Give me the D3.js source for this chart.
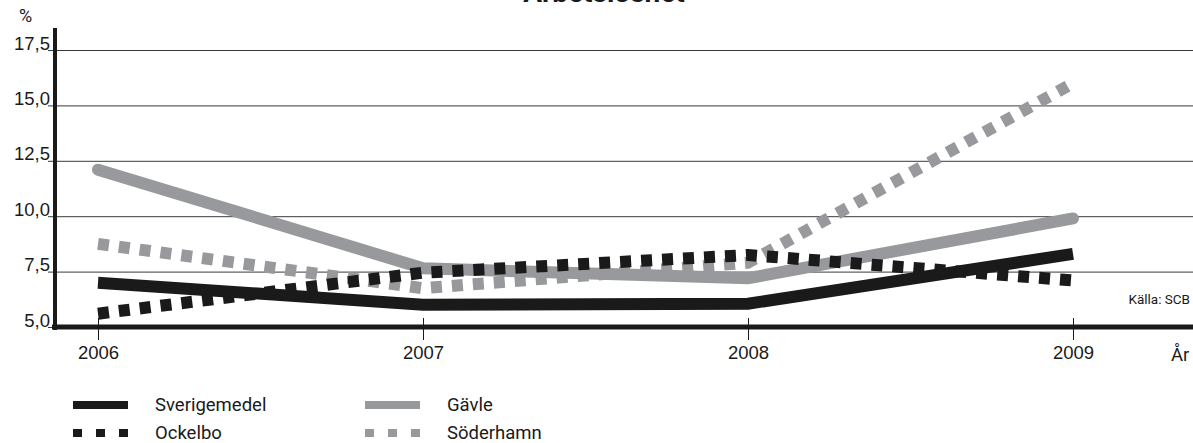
<!DOCTYPE html>
<html>
<head>
<meta charset="utf-8">
<script src="https://cdn.jsdelivr.net/npm/d3@7"></script>
<style>
  body { margin: 0; background: #fff; }
  svg { display: block; font-family: Roboto, "Noto Sans", sans-serif; }
</style>
</head>
<body>
<div id="chart"></div>
<script>
// data
const years = [2006, 2007, 2008, 2009];
const yTicks = [5.0, 7.5, 10.0, 12.5, 15.0, 17.5];
const sverigemedel = [7.0, 6.0, 6.05, 8.3];
const gavle = [12.1, 7.65, 7.2, 9.9];
const ockelbo = [5.6, 7.45, 8.25, 7.1];
const soderhamn = [8.75, 6.75, 7.9, 16.0];

const series = [
    { name: "Sverigemedel", values: sverigemedel, color: "#1a1a1a", dash: null, cap: "butt" },
    { name: "Gävle", values: gavle, color: "#98999c", dash: null, cap: "round" },
    { name: "Ockelbo", values: ockelbo, color: "#1a1a1a", dash: "11,10", cap: "butt" },
    { name: "Söderhamn", values: soderhamn, color: "#98999c", dash: "11,10", cap: "butt" }
];

const width = 1193, height = 443;

const svg = d3.select("#chart").append("svg")
    .attr("width", width)
    .attr("height", height);

const x = d3.scaleLinear().domain([2006, 2009]).range([98, 1073]);
const y = d3.scaleLinear().domain([5, 17.5]).range([327, 50]);

// title (cut off at the top, as in the source)
svg.append("text")
    .attr("x", 604)
    .attr("y", 2)
    .attr("text-anchor", "middle")
    .style("font-size", "28px")
    .style("font-weight", "bold")
    .style("fill", "#1a1a1a")
    .text("Arbetslöshet");

// gridlines + y labels
const yAxis = d3.axisLeft(y)
    .tickValues(yTicks)
    .tickSize(-(width - 48))
    .tickPadding(0)
    .tickFormat(d => d3.format(".1f")(d).replace(".", ","));

const gy = svg.append("g")
    .attr("transform", "translate(48,0)")
    .call(yAxis);
gy.select(".domain").remove();
gy.selectAll(".tick line").attr("stroke", "#3a3a3a").attr("stroke-width", 1);
gy.selectAll(".tick text")
    .attr("x", 2)
    .attr("dy", "-0.05em")
    .style("font-size", "18.5px")
    .style("fill", "#1a1a1a");

// y axis line
svg.append("line")
    .attr("x1", 55).attr("x2", 55)
    .attr("y1", 28).attr("y2", 330)
    .attr("stroke", "#1a1a1a")
    .attr("stroke-width", 4);

svg.append("text")
    .attr("x", 19)
    .attr("y", 22)
    .style("font-size", "18px")
    .style("fill", "#1a1a1a")
    .text("%");

// x axis
const xAxis = d3.axisBottom(x)
    .tickValues(years)
    .tickSize(13)
    .tickPadding(6)
    .tickFormat(d3.format("d"));

const gx = svg.append("g")
    .attr("transform", `translate(0,${y(5)})`)
    .call(xAxis);
gx.select(".domain").remove();
gx.selectAll(".tick line")
    .attr("y1", -9)
    .attr("stroke", "#1a1a1a")
    .attr("stroke-width", 1);
gx.selectAll(".tick text")
    .style("font-size", "18.5px")
    .style("fill", "#1a1a1a");

svg.append("line")
    .attr("x1", 52).attr("x2", width)
    .attr("y1", y(5)).attr("y2", y(5))
    .attr("stroke", "#1a1a1a")
    .attr("stroke-width", 5);

svg.append("text")
    .attr("x", 1171)
    .attr("y", 361)
    .style("font-size", "18.5px")
    .style("fill", "#1a1a1a")
    .text("År");

svg.append("text")
    .attr("x", 1190)
    .attr("y", 304)
    .attr("text-anchor", "end")
    .style("font-size", "13.5px")
    .style("fill", "#1a1a1a")
    .text("Källa: SCB");

// lines
const line = d3.line()
    .x((d, i) => x(years[i]))
    .y(d => y(d));

const drawOrder = [series[0], series[1], series[3], series[2]];

svg.selectAll(".series")
    .data(drawOrder)
    .enter()
    .append("path")
    .attr("class", "series")
    .attr("d", d => line(d.values))
    .attr("fill", "none")
    .attr("stroke", d => d.color)
    .attr("stroke-width", 12)
    .attr("stroke-linecap", d => d.cap)
    .attr("stroke-linejoin", "miter")
    .attr("stroke-dasharray", d => d.dash);

// legend
const legendPos = [
    { x: 73, y: 405 },
    { x: 365, y: 405 },
    { x: 73, y: 433 },
    { x: 365, y: 433 }
];

const legend = svg.selectAll(".legend")
    .data(series)
    .enter()
    .append("g")
    .attr("class", "legend")
    .attr("transform", (d, i) => `translate(${legendPos[i].x},${legendPos[i].y})`);

legend.append("line")
    .attr("x1", 0).attr("x2", 55)
    .attr("y1", 0).attr("y2", 0)
    .attr("stroke", d => d.color)
    .attr("stroke-width", 8)
    .attr("stroke-dasharray", d => d.dash ? "9,14" : null);

legend.append("text")
    .attr("x", 82)
    .attr("y", 0)
    .attr("dy", "0.35em")
    .style("font-size", "18.5px")
    .style("fill", "#1a1a1a")
    .text(d => d.name);
</script>
</body>
</html>
